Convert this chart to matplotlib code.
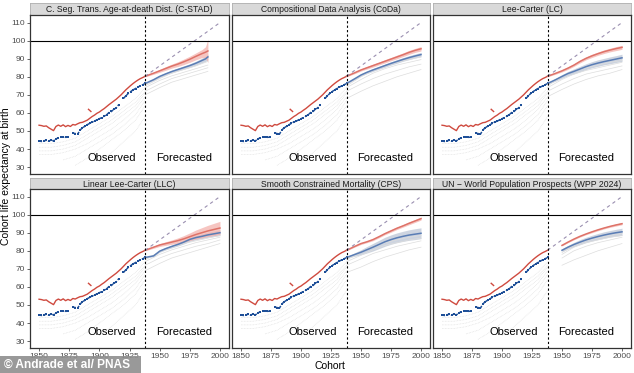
import numpy as np
import matplotlib
matplotlib.use("Agg")
import matplotlib.pyplot as plt
from matplotlib.patches import Rectangle

plt.rcParams["font.family"] = ["Liberation Sans", "DejaVu Sans"]

W, H = 634, 373

# ---- observed data (shared by all panels) ----
obs_years = list(range(1850, 1939, 2))
red_obs = [53.2, 53.0, 52.6, 52.8, 51.8, 51.0, 50.2, 52.5, 53.3, 52.6, 53.4, 52.4, 53.1,
           52.5, 53.6, 53.3, 54.0, 54.6, 54.8, 55.4, 56.0, 57.0, 58.0, 58.8, 59.8, 60.5,
           61.5, 62.4, 63.5, 64.6, 65.6, 66.6, 67.6, 68.8, 70.0, 71.4, 72.8, 74.0, 75.2,
           76.3, 77.3, 78.2, 79.0, 79.6, 80.3]
blue_obs = [44.5, 44.2, 44.6, 44.8, 44.4, 45.0, 44.5, 45.6, 46.2, 46.6, 46.8, 46.5, 46.6,
            np.nan, 48.8, 48.6, 48.2, 50.5, 51.8, 52.6, 53.5, 54.2, 55.0, 55.4, 56.2, 56.8,
            57.4, 58.2, 59.0, 60.2, 60.8, 62.0, 62.8, 64.5, np.nan, 68.0, 69.5, 70.8, 71.8,
            72.8, 73.5, 74.3, 75.0, 75.6, 76.3]
red_spike_years = [1891, 1893]
red_spike_vals = [62.0, 60.8]

gray_obs_years = [1850, 1860, 1870, 1880, 1890, 1900, 1910, 1920, 1930, 1938]
gray_obs = [
    [43, 43, 44, 46, 50, 54, 58, 63, 68, 74],
    [41, 41, 42, 44, 48, 52, 56, 61, 66, 72],
    [39, 39, 40, 42, 46, 50, 54, 59, 64, 71],
    [37, 37, 38, 40, 43, 47, 51, 56, 62, 69],
    [np.nan, np.nan, 34, 36, 40, 44, 48, 53, 59, 67],
    [np.nan, np.nan, np.nan, 31, 35, 40, 45, 50, 56, 64],
    [np.nan, np.nan, np.nan, np.nan, np.nan, 33, 38, 44, 50, 58],
]

diag_years = [1938, 2000]
diag_vals = [80.3, 110.0]

# ---- forecasts per method ----
fc_years = [1938, 1945, 1950, 1955, 1960, 1965, 1970, 1975, 1980, 1985, 1990, 1995, 2000]
cs_years = [1938, 1945, 1950, 1955, 1960, 1965, 1970, 1975, 1980, 1985, 1988, 1990]
wpp_years = fc_years[2:]
gray_fc_years = [1938, 1950, 1960, 1970, 1980, 1990, 2000]
wpp_gray_years = [1950, 1960, 1970, 1980, 1990, 2000]

titles = ["C. Seg. Trans. Age-at-death Dist. (C-STAD)", "Compositional Data Analysis (CoDa)",
          "Lee-Carter (LC)", "Linear Lee-Carter (LLC)", "Smooth Constrained Mortality (CPS)",
          "UN \u2212 World Population Prospects (WPP 2024)"]

cstad_red = [80.3, 82.0, 83.3, 84.6, 85.9, 87.0, 88.3, 89.7, 91.3, 92.8, 93.6, 94.3]
cstad_red_band = [0.3, 0.6, 0.8, 1.0, 1.1, 1.3, 1.5, 1.7, 1.9, 2.2, 3.0, 6.5]
cstad_blue = [76.3, 78.4, 80.2, 81.6, 82.9, 84.0, 85.1, 86.2, 87.5, 89.0, 89.9, 91.0]
cstad_blue_band = [0.3, 0.5, 0.6, 0.7, 0.8, 0.8, 0.9, 1.0, 1.1, 1.3, 1.4, 1.6]
cstad_gray = [[75, 79, 82, 84, 86, 88.5], [74, 78, 80.5, 82.5, 84.5, 86.5],
              [72, 76, 79, 81, 83, 85], [70, 74, 77, 79, 81, 83]]

coda_red = [80.3, 82.3, 83.8, 85.0, 86.2, 87.4, 88.6, 89.8, 91.0, 92.2, 93.5, 94.6, 95.5]
coda_red_band = [0.3, 0.5, 0.6, 0.7, 0.8, 0.8, 0.9, 0.9, 1.0, 1.0, 1.1, 1.1, 1.2]
coda_blue = [76.3, 79.0, 81.0, 82.5, 83.8, 85.0, 86.2, 87.4, 88.5, 89.6, 90.6, 91.5, 92.3]
coda_blue_band = [0.3, 0.5, 0.6, 0.7, 0.8, 0.8, 0.9, 0.9, 1.0, 1.0, 1.1, 1.1, 1.2]
coda_gray = [[75, 80, 83.5, 86, 88, 89.5, 91], [74, 78.5, 82, 84.5, 86.5, 88, 89.5],
             [72, 76, 79, 81.5, 83.5, 85.5, 87], [68, 72, 75, 77.5, 80, 82, 84]]

lc_red = [80.3, 82.0, 83.3, 84.8, 86.5, 88.5, 90.2, 91.6, 92.8, 93.9, 94.8, 95.6, 96.3]
lc_red_band = [0.3, 0.5, 0.6, 0.7, 0.7, 0.8, 0.8, 0.9, 0.9, 1.0, 1.0, 1.1, 1.1]
lc_blue = [76.3, 78.5, 80.2, 81.8, 83.0, 84.3, 85.6, 86.7, 87.6, 88.4, 89.1, 89.8, 90.5]
lc_blue_band = [0.4, 0.8, 1.0, 1.2, 1.4, 1.5, 1.6, 1.7, 1.8, 1.8, 1.9, 1.9, 2.0]
lc_gray = [[75, 80, 83, 85, 86.5, 88, 89], [74, 78.5, 81.5, 83.5, 85, 86.5, 88],
           [72, 76, 79, 81.5, 83, 84.5, 86], [69, 73, 76, 78.5, 80.5, 82, 84]]

llc_red = [80.3, 82.0, 83.2, 84.0, 84.8, 85.6, 86.6, 87.8, 89.0, 90.0, 91.0, 91.8, 92.6]
llc_red_band = [0.3, 0.6, 0.8, 1.0, 1.2, 1.5, 1.8, 2.1, 2.5, 2.8, 3.1, 3.4, 3.7]
llc_blue = [76.3, 77.2, 79.8, 81.2, 82.4, 83.5, 84.8, 86.3, 87.3, 88.0, 88.8, 89.4, 90.0]
llc_blue_band = [0.3, 0.5, 0.6, 0.7, 0.8, 0.9, 1.0, 1.1, 1.2, 1.3, 1.4, 1.5, 1.6]
llc_gray = [[75, 79.5, 82, 84, 85.5, 87, 88.5], [74, 78, 80.5, 82.5, 84.5, 86, 87.5],
            [72, 76, 78.5, 80.5, 82.5, 84, 86], [69, 73, 76, 78, 80, 82, 84]]

cps_red = [80.3, 82.5, 84.0, 85.0, 86.2, 87.8, 89.5, 91.0, 92.5, 93.8, 95.2, 96.5, 97.8]
cps_red_band = [0.3, 0.4, 0.5, 0.5, 0.6, 0.6, 0.6, 0.7, 0.7, 0.7, 0.8, 0.8, 0.8]
cps_blue = [76.3, 78.0, 79.2, 80.6, 82.0, 83.5, 85.0, 86.2, 87.2, 88.0, 88.7, 89.2, 89.7]
cps_blue_band = [0.4, 1.0, 1.4, 1.8, 2.1, 2.3, 2.5, 2.6, 2.7, 2.8, 2.9, 3.0, 3.0]
cps_gray = [[75, 79, 82, 84.5, 86, 87.5, 88.5], [74, 77.5, 80.5, 83, 84.5, 86, 87],
            [72, 75.5, 78.5, 80.5, 82.5, 84, 85.5], [68, 71, 74, 76.5, 78.5, 80.5, 82]]

wpp_red = [83.0, 84.8, 86.5, 88.0, 89.3, 90.5, 91.6, 92.6, 93.5, 94.3, 95.0]
wpp_red_band = [0.3, 0.3, 0.4, 0.4, 0.4, 0.5, 0.5, 0.5, 0.5, 0.6, 0.6]
wpp_blue = [80.3, 82.0, 83.5, 84.8, 86.0, 87.0, 87.9, 88.7, 89.4, 90.0, 90.5]
wpp_blue_band = [0.8, 1.0, 1.2, 1.4, 1.5, 1.6, 1.7, 1.8, 1.8, 1.9, 2.0]
wpp_gray = [[79, 83, 85.5, 87, 88.5, 89.5], [78, 82, 84.5, 86, 87.5, 88.5],
            [76, 80, 82.5, 84.5, 86, 87.5], [72, 75, 77.5, 80, 82, 84]]

panels = [
    (cs_years, cstad_red, cstad_red_band, cstad_blue, cstad_blue_band, gray_fc_years[:6], cstad_gray),
    (fc_years, coda_red, coda_red_band, coda_blue, coda_blue_band, gray_fc_years, coda_gray),
    (fc_years, lc_red, lc_red_band, lc_blue, lc_blue_band, gray_fc_years, lc_gray),
    (fc_years, llc_red, llc_red_band, llc_blue, llc_blue_band, gray_fc_years, llc_gray),
    (fc_years, cps_red, cps_red_band, cps_blue, cps_blue_band, gray_fc_years, cps_gray),
    (wpp_years, wpp_red, wpp_red_band, wpp_blue, wpp_blue_band, wpp_gray_years, wpp_gray),
]

RED_OBS = "#cf4a3f"
BLUE_OBS = "#1e4f98"
RED_FC = "#de7268"
BLUE_FC = "#5a7db5"
GRAY = "#dddddd"
EDGE = "#333333"

fig = plt.figure(figsize=(W / 100, H / 100), dpi=100)


def rect(l, t, r, b):
    return [l / W, 1 - b / H, (r - l) / W, (b - t) / H]


cols = [(30, 229), (232, 430), (433, 631)]
rows = [((3, 15), (15, 174)), ((178, 189), (189, 348))]

for i, (fy, rv, rb, bv, bb, gy, gl) in enumerate(panels):
    r, c = divmod(i, 3)
    (st, sb), (pt, pb) = rows[r]
    l, rr = cols[c]

    sax = fig.add_axes(rect(l, st, rr, sb))
    sax.set_facecolor("#d9d9d9")
    sax.set_xticks([]); sax.set_yticks([])
    for s in sax.spines.values():
        s.set_color("#b0b0b0"); s.set_linewidth(0.6)
    sax.text(0.5, 0.45, titles[i], ha="center", va="center", fontsize=6.2, color="#1a1a1a")

    ax = fig.add_axes(rect(l, pt, rr, pb))
    ax.set_xlim(1842.5, 2007.5)
    ax.set_ylim(26.2, 114.2)
    for s in ax.spines.values():
        s.set_color(EDGE); s.set_linewidth(0.9)

    fr = np.array(rv); frb = np.array(rb)
    fb = np.array(bv); fbb = np.array(bb)

    for g in gray_obs:
        ax.plot(gray_obs_years, g, color=GRAY, lw=0.5, ls=(0, (1, 1.2)))
    for g in gl:
        ax.plot(gy, g, color=GRAY, lw=0.5)

    ax.fill_between(fy, fb - fbb, fb + fbb, color="#b9c3d3", alpha=0.7, lw=0)
    ax.fill_between(fy, fr - frb, fr + frb, color="#f4b2ad", alpha=0.75, lw=0)

    ax.plot(obs_years, red_obs, color=RED_OBS, lw=1.0)
    ax.plot(red_spike_years, red_spike_vals, color=RED_OBS, lw=1.0)
    ax.plot(obs_years, blue_obs, color=BLUE_OBS, lw=0, marker="s", ms=1.7, mew=0)
    ax.plot(obs_years, blue_obs, color=BLUE_OBS, lw=1.1, ls=(0, (2, 1)))
    ax.plot(fy, fr, color=RED_FC, lw=1.1)
    ax.plot(fy, fb, color=BLUE_FC, lw=1.1)

    ax.plot(diag_years, diag_vals, color="#9a8fb0", lw=0.8, ls=(0, (3, 3)))
    ax.axhline(100, color="black", lw=0.8)
    ax.axvline(1938, color="black", lw=0.8, ls=(0, (2, 2)))

    ax.text(1910, 35, "Observed", ha="center", va="center", fontsize=8)
    ax.text(1970, 35, "Forecasted", ha="center", va="center", fontsize=8)

    ax.set_xticks([1850, 1875, 1900, 1925, 1950, 1975, 2000])
    ax.set_yticks(range(30, 111, 10))
    ax.tick_params(length=2, width=0.6, color="#4d4d4d", labelsize=6,
                   labelcolor="#4d4d4d", pad=1.5)
    if c != 0:
        ax.tick_params(axis="y", left=False, labelleft=False)
    if r != 1:
        ax.tick_params(axis="x", bottom=False, labelbottom=False)

fig.text(6 / W, 1 - 176 / H, "Cohort life expectancy at birth", rotation=90,
         ha="center", va="center", fontsize=7.5)
fig.text(330 / W, 1 - 366 / H, "Cohort", ha="center", va="center", fontsize=7.5)

fig.add_artist(Rectangle((0, 0), 141 / W, 17 / H, transform=fig.transFigure,
                         facecolor="#8e8e8e", edgecolor="none", alpha=0.9))
fig.text(4 / W, 8.5 / H, "\u00a9 Andrade et al/ PNAS", color="white", fontweight="bold",
         fontsize=8.6, ha="left", va="center")

fig.savefig("out.png", dpi=100)
